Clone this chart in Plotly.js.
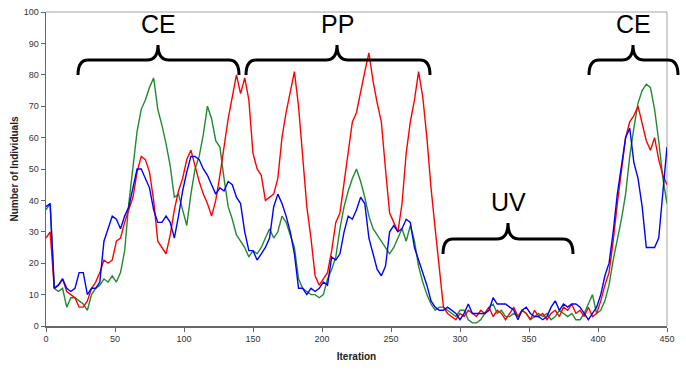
<!DOCTYPE html>
<html>
<head>
<meta charset="utf-8">
<script src="https://cdn.plot.ly/plotly-3.0.1.min.js"></script>
<style>
  html, body { margin: 0; padding: 0; background: #ffffff; }
  #chart { width: 686px; height: 383px; }
</style>
</head>
<body>
<div id="chart"></div>
<script>
// ---- data (sampled every 3 iterations, 0 .. 450) ----
const iterationStep = 3;

const redCounts = [
  28,30,12,13,15,11,10,9,6,6,
  8,12,14,17,21,20,21,27,28,33,
  37,41,49,54,53,49,40,27,25,23,
  29,37,43,47,53,56,51,46,42,39,
  35,40,48,57,66,73,80,74,79,72,
  55,50,48,40,41,42,47,60,68,75,
  81,70,54,38,28,16,13,15,17,24,
  33,36,46,56,65,68,75,81,87,78,
  71,65,50,36,33,30,39,55,65,72,
  81,73,60,44,31,18,6,4,3,2,
  4,3,5,4,3,5,4,6,3,5,
  4,2,4,6,3,5,4,2,5,3,
  4,2,4,5,3,6,5,7,4,5,
  3,6,3,4,8,13,17,27,39,50,
  60,65,67,70,64,59,56,60,53,48,
  45
];

const greenCounts = [
  37,39,12,11,12,6,9,9,8,7,
  5,10,12,13,15,14,16,14,17,24,
  39,51,62,69,72,76,79,69,64,58,
  51,41,42,37,32,42,50,54,61,70,
  66,59,57,47,38,34,29,27,25,22,
  24,23,25,28,31,28,30,35,33,29,
  25,15,12,11,10,10,9,10,15,18,
  22,31,38,43,47,50,46,41,35,31,
  29,27,25,23,25,28,31,27,32,27,
  19,14,10,7,5,6,6,5,4,3,
  5,5,2,1,1,2,4,6,7,4,
  5,3,3,4,3,5,4,2,3,4,
  3,4,2,3,5,4,3,4,2,2,
  4,7,10,4,5,8,13,21,27,34,
  42,54,63,71,75,77,76,69,59,47,
  39
];

const blueCounts = [
  38,39,12,13,15,12,11,12,17,17,
  10,12,12,14,27,31,35,34,31,35,
  38,44,50,50,47,44,37,33,33,35,
  33,28,35,43,49,54,54,53,50,48,
  45,42,44,43,46,45,41,39,30,24,
  24,21,23,25,28,38,42,39,35,30,
  23,12,12,10,12,11,12,14,13,22,
  21,23,30,35,34,37,41,39,28,23,
  18,16,19,30,32,30,31,34,33,25,
  21,17,13,8,6,5,5,6,5,4,
  2,4,7,4,4,4,4,5,9,7,
  7,7,6,5,2,5,6,4,3,3,
  2,3,6,8,5,7,6,7,7,6,
  4,2,4,6,10,16,20,30,42,51,
  60,63,52,47,38,25,25,25,28,43,
  57
];

// phase labels drawn above their braces
const phaseLabels = ['CE', 'PP', 'UV', 'CE'];

const xTicks = [0, 50, 100, 150, 200, 250, 300, 350, 400, 450];
const yTicks = [0, 10, 20, 30, 40, 50, 60, 70, 80, 90, 100];

// ---- build ----
const iterations = redCounts.map((_, i) => i * iterationStep);

function series(y, color) {
  return {
    type: 'scatter', mode: 'lines', x: iterations, y: y,
    line: { color: color, width: 1.4 }, hoverinfo: 'skip', showlegend: false
  };
}

const W = 686, H = 383;
const M = { l: 46, r: 19, t: 12, b: 57 };
const PW = W - M.l - M.r, PH = H - M.t - M.b;
const px = v => (v - M.l) / PW;          // pixel x -> paper
const py = v => (H - M.b - v) / PH;      // pixel y -> paper

function bracePath(L, R, C, yTip, yBar, yCusp) {
  const hr = 10, cr = 11;
  const p = (x, y) => px(x).toFixed(5) + ',' + py(y).toFixed(5);
  return 'M' + p(L, yTip) +
    ' Q' + p(L, yBar) + ' ' + p(L + hr, yBar) +
    ' L' + p(C - cr, yBar) +
    ' Q' + p(C, yBar) + ' ' + p(C, yCusp) +
    ' Q' + p(C, yBar) + ' ' + p(C + cr, yBar) +
    ' L' + p(R - hr, yBar) +
    ' Q' + p(R, yBar) + ' ' + p(R, yTip);
}

const braces = [
  { L: 78,  R: 239, C: 158, tip: 75,  bar: 60,  cusp: 45,  ty: 24 },
  { L: 246, R: 430, C: 337, tip: 75,  bar: 60,  cusp: 45,  ty: 24 },
  { L: 443, R: 573, C: 508, tip: 254, bar: 239, cusp: 223, ty: 202 },
  { L: 589, R: 678, C: 633, tip: 75,  bar: 60,  cusp: 45,  ty: 24 }
];

const shapes = [
  // light plot-area frame (top / right)
  { type: 'path', xref: 'paper', yref: 'paper', layer: 'below',
    path: 'M0,1 L1,1 L1,0', line: { color: '#a6a6a6', width: 1 } }
].concat(braces.map(b => ({
  type: 'path', xref: 'paper', yref: 'paper',
  path: bracePath(b.L, b.R, b.C, b.tip, b.bar, b.cusp),
  line: { color: '#000000', width: 3 }
})));

const annotations = braces.map((b, i) => ({
  xref: 'paper', yref: 'paper', x: px(b.C), y: py(b.ty),
  xanchor: 'center', yanchor: 'middle', showarrow: false,
  text: phaseLabels[i],
  font: { family: 'Arial, "Liberation Sans", sans-serif', size: 25, color: '#000000' }
}));

const tickFont = { family: 'Arial, "Liberation Sans", sans-serif', size: 9, color: '#333333' };
const titleFont = { family: 'Arial, "Liberation Sans", sans-serif', size: 10, color: '#222222', weight: 'bold' };

const layout = {
  width: W, height: H,
  margin: M,
  paper_bgcolor: '#ffffff', plot_bgcolor: '#ffffff',
  showlegend: false,
  xaxis: {
    range: [0, 450], tickvals: xTicks, ticktext: xTicks.map(String),
    showgrid: false, zeroline: false,
    showline: true, linecolor: '#666666', linewidth: 1.5,
    ticks: 'outside', ticklen: 4, tickcolor: '#666666', tickwidth: 1,
    tickfont: tickFont,
    title: { text: 'Iteration', font: titleFont, standoff: 9 }
  },
  yaxis: {
    range: [0, 100], tickvals: yTicks, ticktext: yTicks.map(String),
    showgrid: false, zeroline: false,
    showline: true, linecolor: '#666666', linewidth: 1.5,
    ticks: 'outside', ticklen: 4, tickcolor: '#666666', tickwidth: 1,
    tickfont: tickFont,
    title: { text: 'Number of Individuals', font: titleFont, standoff: 3 }
  },
  shapes: shapes,
  annotations: annotations
};

Plotly.newPlot('chart', [
  series(greenCounts, '#218a2e'),
  series(redCounts, '#ff0000'),
  series(blueCounts, '#0000ff')
], layout, { displayModeBar: false, staticPlot: true });
</script>
</body>
</html>
